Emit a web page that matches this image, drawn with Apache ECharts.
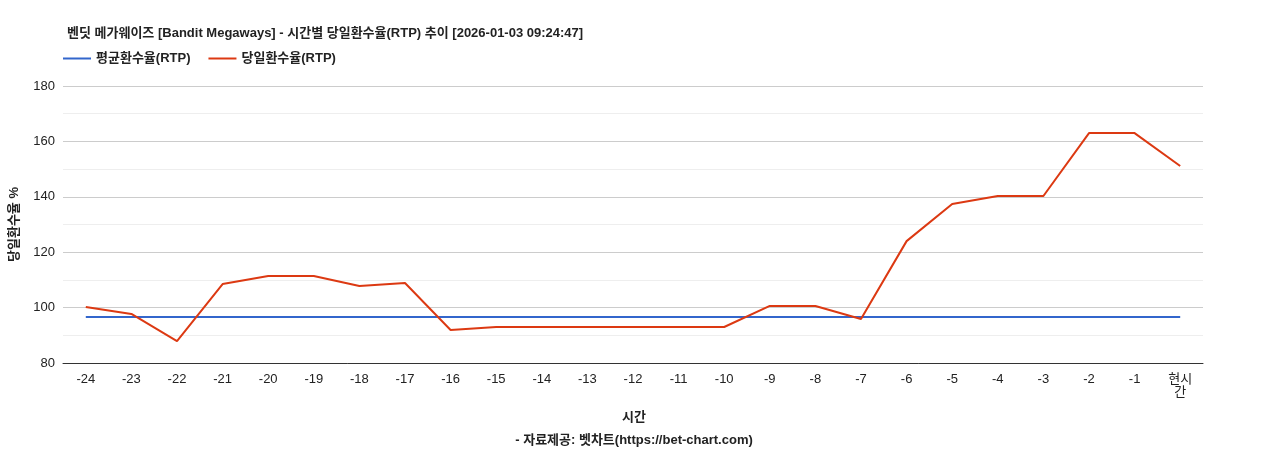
<!DOCTYPE html>
<html lang="ko">
  <head>
    <meta charset="UTF-8" />
    <title>RTP Chart</title>
    <script src="https://cdn.jsdelivr.net/npm/echarts@6.0.0/dist/echarts.min.js"></script>
    <style>
      body { margin: 0; background: #fff; }
    </style>
  </head>
  <body>
    <div id="chart" style="width: 1268px; height: 450px"></div>
    <script type="text/javascript">
      // hour labels, last one is "now"
      const hours = ["-24", "-23", "-22", "-21", "-20", "-19", "-18", "-17", "-16", "-15", "-14", "-13",
        "-12", "-11", "-10", "-9", "-8", "-7", "-6", "-5", "-4", "-3", "-2", "-1", "현시간"];
      const dailyRtp = [100.2, 97.7, 87.9, 108.5, 111.4, 111.4, 107.8, 108.9, 91.9, 93, 93, 93,
        93, 93, 93, 100.6, 100.6, 95.9, 124, 137.4, 140.3, 140.3, 163, 163, 151.1];
      const avgRtp = hours.map(() => 96.6);

      const chart = echarts.init(document.getElementById("chart"));
      const font = "'Liberation Sans', 'Noto Sans CJK KR', sans-serif";

      chart.setOption({
        textStyle: { fontFamily: font },
        title: [
          {
            text: "벤딧 메가웨이즈 [Bandit Megaways] - 시간별 당일환수율(RTP) 추이 [2026-01-03 09:24:47]",
            left: 62, top: 22,
            textStyle: { fontSize: 13, fontWeight: "bold", color: "#222", fontFamily: font },
          },
          {
            text: "시간",
            left: "center", top: 406,
            textStyle: { fontSize: 13, fontWeight: "bold", color: "#222", fontFamily: font },
          },
          {
            text: "- 자료제공: 벳차트(https://bet-chart.com)",
            left: "center", top: 429,
            textStyle: { fontSize: 13, fontWeight: "bold", color: "#222", fontFamily: font },
          },
        ],
        legend: {
          left: 58, top: 47,
          icon: "rect", itemWidth: 28, itemHeight: 2, itemGap: 18,
          textStyle: { fontSize: 13, fontWeight: "bold", color: "#222", fontFamily: font },
          data: ["평균환수율(RTP)", "당일환수율(RTP)"],
        },
        grid: { left: 63, right: 65, top: 86, bottom: 87 },
        xAxis: {
          type: "category",
          data: hours,
          axisTick: { show: false },
          axisLine: { lineStyle: { color: "#333" } },
          axisLabel: {
            color: "#222", fontSize: 13, margin: 10, fontFamily: font,
            formatter: (v) => (v === "현시간" ? "현시\n간" : v),
          },
        },
        yAxis: {
          type: "value",
          min: 80, max: 180, interval: 20,
          name: "당일환수율 %",
          nameLocation: "middle",
          nameGap: 42,
          nameTextStyle: { fontSize: 13, fontWeight: "bold", color: "#222", fontFamily: font },
          axisLabel: { color: "#222", fontSize: 13, fontFamily: font },
          splitLine: { lineStyle: { color: "#ccc" } },
          minorTick: { show: false, splitNumber: 2 },
          minorSplitLine: { show: true, lineStyle: { color: "#eee" } },
        },
        series: [
          {
            name: "평균환수율(RTP)",
            type: "line",
            data: avgRtp,
            symbol: "none",
            lineStyle: { color: "#3366cc", width: 2 },
            itemStyle: { color: "#3366cc" },
          },
          {
            name: "당일환수율(RTP)",
            type: "line",
            data: dailyRtp,
            symbol: "none",
            lineStyle: { color: "#dc3912", width: 2 },
            itemStyle: { color: "#dc3912" },
          },
        ],
      });
    </script>
  </body>
</html>
